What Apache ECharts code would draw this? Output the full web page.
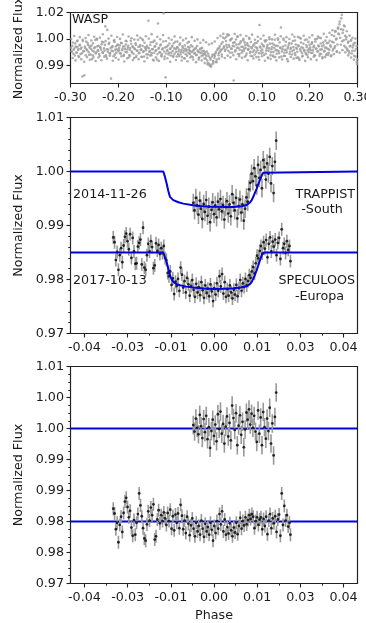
<!DOCTYPE html>
<html>
<head>
<meta charset="utf-8">
<script src="https://cdn.jsdelivr.net/npm/echarts/dist/echarts.min.js"></script>
<style>html,body{margin:0;padding:0;background:#fff;}#c{width:366px;height:623px;}</style>
</head>
<body>
<div id="c"></div>
<script>
// ---------------- DATA ----------------
const waspPhase = [
-0.2990,-0.2971,-0.2950,-0.2933,-0.2911,-0.2892,-0.2870,-0.2852,-0.2831,-0.2813,
-0.2790,-0.2772,-0.2751,-0.2733,-0.2710,-0.2692,-0.2671,-0.2650,-0.2632,-0.2611,
-0.2593,-0.2570,-0.2552,-0.2531,-0.2512,-0.2490,-0.2473,-0.2451,-0.2430,-0.2412,
-0.2391,-0.2372,-0.2350,-0.2331,-0.2313,-0.2290,-0.2271,-0.2252,-0.2230,-0.2211,
-0.2192,-0.2170,-0.2153,-0.2131,-0.2110,-0.2092,-0.2071,-0.2053,-0.2032,-0.2011,
-0.1990,-0.1972,-0.1951,-0.1930,-0.1912,-0.1891,-0.1873,-0.1852,-0.1830,-0.1811,
-0.1793,-0.1771,-0.1750,-0.1732,-0.1713,-0.1690,-0.1672,-0.1651,-0.1633,-0.1611,
-0.1590,-0.1572,-0.1553,-0.1531,-0.1510,-0.1492,-0.1471,-0.1452,-0.1430,-0.1413,
-0.1391,-0.1372,-0.1350,-0.1332,-0.1311,-0.1293,-0.1270,-0.1251,-0.1233,-0.1212,
-0.1190,-0.1171,-0.1153,-0.1130,-0.1112,-0.1091,-0.1070,-0.1052,-0.1031,-0.1010,
-0.0991,-0.0972,-0.0950,-0.0931,-0.0912,-0.0893,-0.0871,-0.0850,-0.0832,-0.0811,
-0.0790,-0.0773,-0.0751,-0.0732,-0.0711,-0.0690,-0.0672,-0.0651,-0.0630,-0.0612,
-0.0591,-0.0572,-0.0553,-0.0531,-0.0510,-0.0492,-0.0471,-0.0450,-0.0432,-0.0411,
-0.0390,-0.0371,-0.0352,-0.0330,-0.0311,-0.0292,-0.0270,-0.0251,-0.0232,-0.0211,
-0.0190,-0.0172,-0.0150,-0.0131,-0.0112,-0.0091,-0.0070,-0.0052,-0.0031,-0.0012,
0.0009,0.0030,0.0051,0.0070,0.0092,0.0111,0.0130,0.0152,0.0171,0.0190,
0.0212,0.0231,0.0250,0.0272,0.0291,0.0310,0.0332,0.0351,0.0370,0.0392,
0.0411,0.0430,0.0452,0.0471,0.0490,0.0512,0.0531,0.0550,0.0572,0.0591,
0.0610,0.0632,0.0651,0.0670,0.0692,0.0711,0.0730,0.0752,0.0771,0.0790,
0.0812,0.0831,0.0850,0.0872,0.0891,0.0910,0.0932,0.0951,0.0970,0.0992,
0.1010,0.1031,0.1050,0.1072,0.1091,0.1110,0.1132,0.1151,0.1170,0.1192,
0.1211,0.1230,0.1252,0.1271,0.1290,0.1312,0.1331,0.1350,0.1372,0.1391,
0.1410,0.1432,0.1451,0.1470,0.1492,0.1511,0.1530,0.1552,0.1571,0.1590,
0.1612,0.1631,0.1650,0.1672,0.1691,0.1710,0.1732,0.1751,0.1770,0.1792,
0.1811,0.1830,0.1852,0.1871,0.1890,0.1912,0.1931,0.1950,0.1972,0.1991,
0.2012,0.2030,0.2051,0.2072,0.2090,0.2111,0.2132,0.2150,0.2171,0.2192,
0.2210,0.2231,0.2252,0.2270,0.2291,0.2312,0.2330,0.2351,0.2372,0.2390,
0.2411,0.2432,0.2450,0.2471,0.2492,0.2510,0.2531,0.2552,0.2570,0.2591,
0.2612,0.2630,0.2651,0.2672,0.2690,0.2711,0.2732,0.2750,0.2771,0.2792,
0.2810,0.2831,0.2852,0.2870,0.2891,0.2912,0.2930,0.2951,0.2972,0.2990,
-0.2981,-0.2962,-0.2941,-0.2922,-0.2901,-0.2880,-0.2861,-0.2842,-0.2821,-0.2802,
-0.2781,-0.2760,-0.2742,-0.2721,-0.2700,-0.2681,-0.2662,-0.2641,-0.2620,-0.2602,
-0.2581,-0.2561,-0.2542,-0.2520,-0.2501,-0.2482,-0.2461,-0.2440,-0.2421,-0.2402,
-0.2381,-0.2360,-0.2342,-0.2321,-0.2300,-0.2281,-0.2262,-0.2241,-0.2220,-0.2201,
-0.2182,-0.2161,-0.2142,-0.2121,-0.2100,-0.2081,-0.2062,-0.2041,-0.2021,-0.2001,
-0.1981,-0.1962,-0.1941,-0.1921,-0.1901,-0.1882,-0.1861,-0.1842,-0.1821,-0.1801,
-0.1782,-0.1761,-0.1741,-0.1722,-0.1701,-0.1681,-0.1662,-0.1641,-0.1621,-0.1602,
-0.1581,-0.1561,-0.1542,-0.1521,-0.1501,-0.1482,-0.1461,-0.1441,-0.1422,-0.1401,
-0.1381,-0.1362,-0.1341,-0.1321,-0.1302,-0.1281,-0.1261,-0.1242,-0.1221,-0.1201,
-0.1182,-0.1161,-0.1141,-0.1122,-0.1101,-0.1081,-0.1062,-0.1041,-0.1021,-0.1001,
-0.0981,-0.0962,-0.0941,-0.0921,-0.0902,-0.0881,-0.0861,-0.0842,-0.0821,-0.0801,
-0.0781,-0.0762,-0.0741,-0.0721,-0.0702,-0.0681,-0.0661,-0.0642,-0.0621,-0.0601,
-0.0581,-0.0562,-0.0541,-0.0521,-0.0502,-0.0481,-0.0461,-0.0442,-0.0421,-0.0401,
-0.0381,-0.0362,-0.0341,-0.0321,-0.0302,-0.0281,-0.0261,-0.0242,-0.0221,-0.0201,
-0.0181,-0.0162,-0.0141,-0.0121,-0.0102,-0.0081,-0.0061,-0.0042,-0.0021,-0.0001,
0.0019,0.0040,0.0060,0.0081,0.0101,0.0120,0.0141,0.0161,0.0180,0.0201,
0.0221,0.0240,0.0261,0.0281,0.0300,0.0321,0.0341,0.0360,0.0381,0.0401,
0.0420,0.0441,0.0461,0.0480,0.0501,0.0521,0.0540,0.0561,0.0581,0.0600,
0.0621,0.0641,0.0660,0.0681,0.0701,0.0720,0.0741,0.0761,0.0780,0.0801,
0.0821,0.0840,0.0861,0.0881,0.0900,0.0921,0.0941,0.0960,0.0981,0.0999,
0.1019,0.1040,0.1060,0.1081,0.1101,0.1120,0.1141,0.1161,0.1180,0.1201,
0.1221,0.1240,0.1261,0.1281,0.1300,0.1321,0.1341,0.1360,0.1381,0.1401,
0.1420,0.1441,0.1461,0.1480,0.1501,0.1521,0.1540,0.1561,0.1581,0.1600,
0.1621,0.1641,0.1660,0.1681,0.1701,0.1720,0.1741,0.1761,0.1780,0.1801,
0.1821,0.1840,0.1861,0.1881,0.1900,0.1921,0.1941,0.1960,0.1981,0.1999,
0.2021,0.2041,0.2060,0.2081,0.2101,0.2120,0.2141,0.2161,0.2180,0.2201,
0.2221,0.2240,0.2261,0.2281,0.2300,0.2321,0.2341,0.2360,0.2381,0.2401,
0.2421,0.2440,0.2461,0.2481,0.2500,0.2521,0.2541,0.2560,0.2581,0.2601,
0.2621,0.2640,0.2661,0.2681,0.2700,0.2721,0.2741,0.2760,0.2781,0.2801,
0.2821,0.2840,0.2861,0.2881,0.2900,0.2921,0.2941,0.2960,0.2981,0.2996,
-0.2985,-0.2955,-0.2925,-0.2895,-0.2865,-0.2835,-0.2805,-0.2775,-0.2745,-0.2715,
-0.2685,-0.2655,-0.2625,-0.2595,-0.2565,-0.2535,-0.2505,-0.2475,-0.2445,-0.2415,
-0.2385,-0.2355,-0.2325,-0.2295,-0.2265,-0.2235,-0.2205,-0.2175,-0.2145,-0.2115,
-0.2085,-0.2055,-0.2025,-0.1995,-0.1965,-0.1935,-0.1905,-0.1875,-0.1845,-0.1815,
-0.1785,-0.1755,-0.1725,-0.1695,-0.1665,-0.1635,-0.1605,-0.1575,-0.1545,-0.1515,
-0.1485,-0.1455,-0.1425,-0.1395,-0.1365,-0.1335,-0.1305,-0.1275,-0.1245,-0.1215,
-0.1185,-0.1155,-0.1125,-0.1095,-0.1065,-0.1035,-0.1005,-0.0975,-0.0945,-0.0915,
-0.0885,-0.0855,-0.0825,-0.0795,-0.0765,-0.0735,-0.0705,-0.0675,-0.0645,-0.0615,
-0.0585,-0.0555,-0.0525,-0.0495,-0.0465,-0.0435,-0.0405,-0.0375,-0.0345,-0.0315,
-0.0285,-0.0255,-0.0225,-0.0195,-0.0165,-0.0135,-0.0105,-0.0075,-0.0045,-0.0015,
0.0015,0.0045,0.0075,0.0105,0.0135,0.0165,0.0195,0.0225,0.0255,0.0285,
0.0315,0.0345,0.0375,0.0405,0.0435,0.0465,0.0495,0.0525,0.0555,0.0585,
0.0615,0.0645,0.0675,0.0705,0.0735,0.0765,0.0795,0.0825,0.0855,0.0885,
0.0915,0.0945,0.0975,0.1005,0.1035,0.1065,0.1095,0.1125,0.1155,0.1185,
0.1215,0.1245,0.1275,0.1305,0.1335,0.1365,0.1395,0.1425,0.1455,0.1485,
0.1515,0.1545,0.1575,0.1605,0.1635,0.1665,0.1695,0.1725,0.1755,0.1785,
0.1815,0.1845,0.1875,0.1905,0.1935,0.1965,0.1995,0.2025,0.2055,0.2085,
0.2115,0.2145,0.2175,0.2205,0.2235,0.2265,0.2295,0.2325,0.2355,0.2385,
0.2415,0.2445,0.2475,0.2505,0.2535,0.2565,0.2595,0.2625,0.2655,0.2685,
0.2715,0.2745,0.2775,0.2805,0.2835,0.2865,0.2895,0.2925,0.2955,0.2985
];
const waspFlux = [
0.9977,0.9951,1.0010,0.9964,0.9928,0.9984,0.9945,1.0023,0.9969,0.9991,
0.9937,0.9979,0.9795,0.9956,0.9803,0.9974,1.0016,0.9961,0.9995,0.9933,
0.9987,0.9970,0.9905,1.0005,0.9953,0.9980,0.9941,1.0033,0.9963,0.9990,
0.9926,0.9976,0.9999,0.9949,1.0012,0.9958,1.0112,0.9920,1.0090,0.9966,
1.0008,0.9944,0.9782,0.9981,0.9955,1.0020,0.9935,0.9985,0.9968,0.9997,
0.9962,0.9993,0.9940,1.0006,0.9971,0.9925,0.9985,0.9952,1.0018,0.9966,
0.9989,0.9931,0.9975,1.0002,0.9947,0.9980,0.9912,0.9968,0.9996,0.9958,
1.0027,0.9942,0.9983,0.9963,0.9919,0.9988,0.9954,1.0009,0.9972,0.9936,
0.9979,1.0148,0.9950,0.9994,0.9929,0.9967,1.0014,0.9945,0.9986,0.9961,
0.9903,1.0130,0.9977,0.9949,0.9998,0.9938,0.9973,1.0195,0.9921,0.9790,
0.9983,0.9957,0.9935,1.0004,0.9969,0.9946,0.9990,0.9927,0.9973,1.0015,
0.9952,0.9981,0.9938,0.9966,1.0003,0.9949,0.9918,0.9975,0.9959,0.9992,
0.9936,0.9964,1.0008,0.9943,0.9978,0.9955,0.9923,0.9985,0.9960,0.9940,
0.9971,0.9932,0.9988,0.9951,0.9915,0.9967,0.9944,0.9976,0.9929,0.9958,
0.9937,0.9908,0.9953,0.9882,0.9924,0.9865,0.9902,0.9871,0.9933,0.9890,
0.9912,0.9941,0.9886,0.9963,0.9930,0.9975,0.9952,1.0001,0.9968,1.0042,
0.9986,0.9957,1.0019,0.9979,1.0055,0.9994,0.9947,1.0031,0.9972,0.9990,
0.9770,1.0011,0.9961,0.9997,1.0047,0.9976,0.9938,1.0008,0.9983,0.9959,
1.0024,0.9970,0.9993,0.9928,1.0005,0.9965,0.9987,0.9945,1.0013,0.9974,
0.9951,0.9996,0.9934,0.9981,1.0009,0.9962,0.9919,1.0121,0.9978,0.9940,
0.9966,0.9992,0.9931,1.0016,0.9958,0.9984,0.9913,0.9973,1.0003,0.9948,
0.9980,0.9927,0.9995,1.0028,0.9962,0.9939,0.9989,0.9956,1.0010,0.9975,
0.9921,0.9968,1.0036,0.9945,0.9991,0.9960,0.9905,0.9982,1.0007,0.9952,
0.9977,0.9934,1.0020,0.9964,0.9943,0.9998,0.9971,0.9916,0.9987,1.0040,
0.9957,0.9980,0.9926,1.0002,0.9963,0.9947,0.9993,0.9932,1.0014,0.9969,
0.9979,0.9944,1.0011,0.9963,0.9990,0.9928,0.9972,1.0034,0.9955,0.9986,
0.9939,1.0004,0.9967,0.9918,0.9995,0.9958,1.0022,0.9976,0.9941,1.0009,
0.9965,0.9992,0.9930,1.0015,0.9970,1.0051,0.9987,1.0030,0.9954,1.0098,
1.0062,1.0142,0.9996,1.0185,1.0071,1.0024,1.0113,0.9981,1.0045,0.9962,
1.0016,0.9943,0.9989,1.0027,0.9958,0.9993,0.9926,1.0008,0.9971,0.9875,
0.9958,0.9989,0.9939,0.9972,1.0004,0.9947,0.9981,0.9963,0.9919,0.9996,
0.9970,0.9942,1.0019,0.9955,0.9984,0.9929,0.9966,1.0007,0.9950,0.9978,
0.9934,0.9991,0.9960,0.9916,0.9975,1.0026,0.9948,0.9986,0.9957,0.9937,
0.9982,0.9964,1.0015,0.9944,0.9973,0.9995,0.9930,0.9968,0.9952,1.0001,
0.9940,0.9977,0.9959,0.9988,0.9924,1.0013,0.9965,0.9946,0.9993,0.9956,
0.9976,0.9943,1.0009,0.9961,0.9985,0.9932,0.9969,0.9998,0.9948,0.9979,
0.9915,0.9964,1.0021,0.9953,0.9987,0.9939,0.9972,1.0005,0.9926,0.9960,
0.9983,0.9945,0.9994,0.9967,1.0032,0.9951,0.9921,0.9980,0.9962,0.9990,
0.9934,0.9974,0.9956,1.0012,0.9943,0.9969,0.9896,0.9984,0.9958,1.0003,
0.9937,0.9971,0.9949,0.9992,0.9928,0.9966,1.0017,0.9953,0.9979,0.9941,
0.9963,0.9991,0.9945,0.9972,0.9928,0.9984,0.9957,1.0006,0.9940,0.9969,
0.9921,0.9978,0.9953,0.9996,0.9934,0.9962,0.9986,0.9947,0.9911,0.9970,
0.9955,0.9926,0.9981,0.9962,0.9938,0.9993,0.9950,0.9919,0.9966,0.9944,
0.9977,0.9931,0.9959,0.9902,0.9948,0.9972,0.9925,0.9956,0.9940,0.9910,
0.9948,0.9927,0.9896,0.9939,0.9875,0.9912,0.9858,0.9921,0.9893,0.9934,
0.9925,0.9951,0.9903,0.9972,0.9944,0.9988,0.9961,0.9934,1.0012,0.9977,
1.0036,0.9966,0.9995,1.0062,0.9958,0.9983,1.0024,0.9971,0.9945,1.0008,
0.9987,0.9953,1.0029,0.9976,0.9938,0.9999,0.9964,1.0018,0.9945,0.9982,
0.9956,1.0011,0.9975,0.9940,0.9994,0.9967,1.0033,0.9951,0.9980,0.9923,
0.9990,0.9961,1.0006,0.9949,0.9975,1.0019,0.9943,0.9985,0.9958,1.0002,
0.9947,0.9985,1.0023,0.9939,0.9972,0.9996,0.9958,1.0031,0.9929,0.9967,
1.0004,0.9950,0.9976,0.9918,0.9990,0.9961,1.0027,0.9942,0.9979,1.0105,
0.9953,0.9985,0.9926,0.9964,1.0015,0.9947,0.9973,0.9996,0.9938,0.9969,
1.0003,0.9956,0.9982,1.0047,0.9931,0.9977,0.9952,0.9992,0.9909,0.9968,
1.0010,0.9944,0.9975,0.9958,1.0026,0.9937,0.9980,0.9961,0.9949,0.9995,
0.9962,1.0003,0.9946,0.9981,0.9929,1.0017,0.9970,0.9953,0.9991,1.0040,
0.9965,0.9938,0.9987,1.0012,0.9954,0.9978,0.9932,1.0006,0.9969,0.9945,
1.0021,0.9983,1.0058,0.9960,1.0010,0.9976,1.0082,1.0035,0.9998,1.0067,
1.0125,1.0040,1.0163,1.0018,1.0090,0.9990,1.0052,1.0031,0.9970,1.0009,
0.9955,0.9986,1.0022,0.9941,0.9979,1.0004,0.9958,0.9921,0.9988,0.9903,
1.0032,0.9912,1.0051,0.9897,1.0018,0.9925,1.0044,0.9904,1.0027,0.9889,
1.0039,0.9918,1.0058,0.9901,1.0023,0.9929,1.0047,0.9893,1.0030,0.9915,
1.0041,0.9898,1.0062,0.9921,1.0019,0.9907,1.0035,0.9927,1.0053,0.9895,
1.0026,0.9914,1.0045,0.9902,1.0033,0.9923,1.0061,0.9890,1.0021,0.9910,
1.0048,0.9926,1.0037,0.9899,1.0029,0.9917,1.0055,0.9905,1.0040,0.9920,
1.0024,0.9892,1.0050,0.9913,1.0034,0.9928,1.0063,0.9901,1.0022,0.9916,
1.0046,0.9894,1.0031,0.9922,1.0057,0.9906,1.0020,0.9911,1.0038,0.9888,
1.0027,0.9919,1.0049,0.9900,1.0016,0.9924,1.0042,0.9896,1.0025,0.9909,
1.0036,0.9891,1.0014,0.9915,1.0044,0.9903,1.0021,0.9886,1.0030,0.9912,
1.0009,0.9897,1.0025,0.9880,1.0012,0.9872,0.9998,0.9861,1.0005,0.9878,
1.0017,0.9889,1.0039,0.9908,1.0052,0.9921,1.0066,0.9912,1.0045,0.9927,
1.0058,0.9917,1.0036,0.9930,1.0064,0.9904,1.0049,0.9924,1.0057,0.9913,
1.0033,0.9920,1.0051,0.9898,1.0040,0.9926,1.0060,0.9909,1.0028,0.9918,
1.0047,0.9901,1.0034,0.9923,1.0055,0.9895,1.0024,0.9914,1.0043,0.9906,
1.0030,0.9921,1.0059,0.9897,1.0037,0.9916,1.0050,0.9903,1.0026,0.9925,
1.0044,0.9891,1.0032,0.9919,1.0061,0.9908,1.0023,0.9912,1.0046,0.9900,
1.0035,0.9922,1.0053,0.9894,1.0029,0.9917,1.0042,0.9905,1.0056,0.9920,
1.0031,0.9899,1.0048,0.9926,1.0038,0.9910,1.0065,0.9918,1.0045,0.9932,
1.0072,0.9924,1.0088,0.9937,1.0079,0.9951,1.0105,0.9945,1.0094,0.9962,
1.0118,0.9948,1.0081,0.9929,1.0054,0.9915,1.0040,0.9902,1.0035,0.9887
];

const trappistPhase = [
-0.0064,-0.0060,-0.0056,-0.0052,-0.0048,-0.0044,-0.0040,-0.0036,-0.0032,-0.0028,
-0.0024,-0.0020,-0.0016,-0.0012,-0.0008,-0.0004,0.0000,0.0004,0.0008,0.0012,
0.0016,0.0020,0.0024,0.0028,0.0032,0.0036,0.0040,0.0044,0.0048,0.0052,
0.0056,0.0060,0.0064,0.0068,0.0072,0.0076,0.0080,0.0084,0.0088,0.0092,
0.0096,0.0100,0.0104,0.0108,0.0112,0.0116,0.0120,0.0124,0.0128,0.0132,
0.0136,0.0140,0.0144,0.0148,0.0152,0.0156,0.0160,0.0164,0.0168,0.0172,
0.0176,0.0180,0.0184,0.0188,0.0192
];
const trappistFlux = [
0.9942,0.9928,0.9951,0.9937,0.9920,0.9946,0.9931,0.9912,0.9940,0.9925,
0.9947,0.9918,0.9935,0.9906,0.9929,0.9943,0.9921,0.9937,0.9915,0.9944,
0.9930,0.9949,0.9926,0.9938,0.9911,0.9934,0.9945,0.9922,0.9939,0.9917,
0.9958,0.9942,0.9928,0.9951,0.9913,0.9936,0.9948,0.9924,0.9939,0.9909,
0.9931,0.9952,0.9944,0.9967,0.9979,0.9996,0.9982,1.0006,0.9991,0.9974,
1.0012,0.9988,1.0003,0.9969,1.0021,1.0008,0.9985,1.0015,0.9996,1.0027,
0.9978,1.0010,0.9960,1.0018,1.0057
];
const trappistResid = [
0.9992,0.9980,1.0004,0.9987,0.9975,1.0011,0.9990,0.9968,1.0003,0.9979,
1.0009,0.9966,0.9988,0.9950,0.9981,1.0002,0.9972,0.9993,0.9962,1.0012,
0.9985,1.0017,0.9976,0.9994,0.9958,0.9989,1.0008,0.9971,0.9996,0.9964,
1.0028,1.0005,0.9983,1.0014,0.9955,0.9991,1.0010,0.9974,0.9998,0.9951,
0.9984,1.0015,1.0002,1.0021,0.9993,1.0013,0.9987,1.0009,0.9980,0.9961,
1.0019,0.9976,1.0006,0.9955,1.0016,0.9988,0.9967,1.0004,0.9981,1.0024,
0.9958,0.9995,0.9936,1.0007,1.0052
];
const trappistErr = 0.0017;

const speculoosPhase = [
-0.0311,-0.0307,-0.0303,-0.0299,-0.0295,-0.0291,-0.0287,-0.0283,-0.0279,-0.0275,
-0.0271,-0.0267,-0.0263,-0.0259,-0.0255,-0.0251,-0.0247,-0.0243,-0.0239,-0.0235,
-0.0231,-0.0227,-0.0223,-0.0219,-0.0215,-0.0211,-0.0207,-0.0203,-0.0199,-0.0195,
-0.0191,-0.0187,-0.0183,-0.0179,-0.0175,-0.0171,-0.0167,-0.0163,-0.0159,-0.0155,
-0.0151,-0.0147,-0.0143,-0.0139,-0.0135,-0.0131,-0.0127,
-0.0123,-0.0119,-0.0115,-0.0111,-0.0107,-0.0103,-0.0099,-0.0095,-0.0091,-0.0087,
-0.0083,-0.0079,-0.0075,-0.0071,-0.0067,-0.0063,-0.0059,-0.0055,-0.0051,-0.0047,
-0.0043,-0.0039,-0.0035,-0.0031,-0.0027,-0.0023,-0.0019,-0.0015,-0.0011,-0.0007,
-0.0003,0.0001,0.0005,0.0009,0.0013,0.0017,0.0021,0.0025,0.0029,0.0033,
0.0037,0.0041,0.0045,0.0049,0.0053,0.0057,0.0061,0.0065,0.0069,0.0073,
0.0077,0.0081,0.0085,0.0089,0.0093,0.0097,0.0101,0.0105,0.0109,0.0113,
0.0117,0.0121,0.0125,0.0129,0.0133,0.0137,0.0141,0.0145,0.0149,0.0153,
0.0157,0.0161,0.0165,0.0169,0.0173,0.0177,0.0181,0.0185,0.0189,0.0193,
0.0197,0.0201,0.0205,0.0209,0.0213,0.0217,0.0221,0.0225,0.0229,0.0233,0.0236
];
const speculoosFlux = [
0.9878,0.9869,0.9836,0.9851,0.9818,0.9845,0.9858,0.9832,0.9863,0.9879,
0.9885,0.9871,0.9856,0.9884,0.9840,0.9877,0.9852,0.9829,0.9830,0.9861,
0.9868,0.9874,0.9828,0.9896,0.9822,0.9818,0.9845,0.9866,0.9852,0.9871,
0.9860,0.9821,0.9826,0.9867,0.9853,0.9864,0.9847,0.9858,0.9849,0.9862,
0.9840,0.9836,0.9812,0.9806,0.9815,0.9790,0.9802,
0.9773,0.9796,0.9788,0.9801,0.9779,0.9822,0.9809,0.9785,0.9797,0.9776,
0.9803,0.9791,0.9770,0.9788,0.9799,0.9781,0.9768,0.9792,0.9776,0.9786,
0.9771,0.9795,0.9780,0.9766,0.9789,0.9775,0.9783,0.9769,0.9791,0.9778,
0.9760,0.9784,0.9772,0.9793,0.9779,0.9806,0.9787,0.9810,0.9774,0.9795,
0.9768,0.9782,0.9770,0.9789,0.9776,0.9765,0.9781,0.9772,0.9790,0.9769,
0.9784,0.9799,0.9779,0.9793,0.9786,0.9801,0.9789,0.9797,0.9808,0.9803,
0.9815,0.9823,0.9811,0.9830,0.9844,0.9839,0.9853,0.9862,0.9848,0.9869,
0.9857,0.9873,0.9841,0.9866,0.9878,0.9852,0.9870,0.9861,0.9874,0.9845,
0.9868,0.9877,0.9838,0.9893,0.9858,0.9866,0.9849,0.9871,0.9855,0.9862,0.9834
];
const speculoosResid = [
0.9838,0.9829,0.9800,0.9812,0.9776,0.9808,0.9823,0.9795,0.9830,0.9851,
0.9858,0.9841,0.9822,0.9834,0.9803,0.9788,0.9817,0.9790,0.9812,0.9828,
0.9866,0.9844,0.9824,0.9802,0.9783,0.9779,0.9809,0.9833,0.9816,0.9840,
0.9826,0.9846,0.9781,0.9787,0.9818,0.9835,0.9811,0.9826,0.9815,0.9831,
0.9820,0.9808,0.9830,0.9815,0.9836,0.9801,0.9824,
0.9798,0.9827,0.9812,0.9829,0.9802,0.9845,0.9825,0.9800,0.9816,0.9793,
0.9823,0.9810,0.9789,0.9807,0.9820,0.9801,0.9787,0.9812,0.9796,0.9806,
0.9790,0.9816,0.9801,0.9786,0.9810,0.9796,0.9804,0.9790,0.9812,0.9799,
0.9779,0.9806,0.9793,0.9815,0.9801,0.9828,0.9809,0.9833,0.9796,0.9818,
0.9790,0.9804,0.9792,0.9811,0.9798,0.9787,0.9803,0.9794,0.9812,0.9791,
0.9806,0.9821,0.9801,0.9815,0.9807,0.9822,0.9809,0.9817,0.9826,0.9819,
0.9828,0.9823,0.9802,0.9815,0.9822,0.9808,0.9818,0.9822,0.9800,0.9819,
0.9806,0.9823,0.9791,0.9816,0.9828,0.9802,0.9820,0.9811,0.9824,0.9795,
0.9818,0.9827,0.9788,0.9866,0.9808,0.9843,0.9816,0.9826,0.9805,0.9812,0.9790
];
const speculoosErr = 0.0012;

const trappistModelPhase = [-0.0443,-0.01565,-0.0152,-0.01462,-0.0141,-0.01359,-0.0131,-0.01256,-0.0110,-0.00947,-0.0065,-0.00432,-0.0010,0.00597,0.0085,0.0101,0.0110,0.01164,0.0124,0.01318,0.0140,0.01473,0.0152,0.01575,0.0443];
const trappistModelFlux  = [1.0,1.0,0.99915,0.99778,0.99640,0.99530,0.99495,0.99470,0.99430,0.99405,0.99375,0.99360,0.99345,0.99343,0.99355,0.99380,0.99420,0.99470,0.99570,0.99685,0.99815,0.99925,0.99975,1.0,1.0];
const speculoosModelPhase = [-0.0443,-0.01565,-0.0152,-0.01462,-0.0141,-0.01359,-0.0131,-0.01256,-0.0115,-0.0105,-0.0085,-0.00638,-0.0030,-0.0002,0.0030,0.00597,0.0085,0.0101,0.0110,0.01164,0.0124,0.01318,0.0140,0.01473,0.01545,0.0443];
const speculoosModelFlux  = [0.985,0.985,0.9842,0.98326,0.98200,0.98080,0.98005,0.97956,0.97915,0.97894,0.97868,0.97852,0.97835,0.97826,0.97828,0.97838,0.97855,0.97876,0.97910,0.97956,0.98050,0.98172,0.98320,0.98450,0.985,0.985];
const residLevels = [0.99857, 0.98143];

// tick values (labels printed with two decimals)
const waspXTicks = [-0.3,-0.2,-0.1,0.0,0.1,0.2,0.3];
const waspYTicks = [0.986667,1.003333,1.02];
const phaseTicks = [-0.04,-0.026667,-0.013333,0,0.013333,0.026667,0.04];
const phaseMinor = [-0.033333,-0.02,-0.006667,0.006667,0.02,0.033333];
const transitYTicks = [0.97,0.98,0.99,1.00,1.01];
const transitYMinor = [0.972,0.974,0.976,0.978,0.982,0.984,0.986,0.988,0.992,0.994,0.996,0.998,1.002,1.004,1.006,1.008];
const residYTicks = [0.97,0.975714,0.981429,0.987143,0.992857,0.998571,1.004286,1.01];
const residYMinor = [0.971429,0.972857,0.974286,0.977143,0.978571,0.98,0.982857,0.984286,0.985714,0.988571,0.99,0.991429,0.994286,0.995714,0.997143,1.0,1.001429,1.002857,1.005714,1.007143,1.008571];

// ---------------- CHART ----------------
const FONT = 'DejaVu Sans';
const TXT = '#1a1a1a';
const FS = 12.7;
const fmt = v => (Math.abs(v) < 1e-9 ? 0 : v).toFixed(2);
const zip = (a, b, e) => a.map((x, i) => e === undefined ? [x, b[i]] : [x, b[i], e]);

const grids = [
  {left: 70.5, top: 12.5, width: 287, height: 71},
  {left: 70.5, top: 117.5, width: 287, height: 216},
  {left: 70.5, top: 366.5, width: 287, height: 217}
].map(g => Object.assign(g, {show: true, borderColor: '#222', borderWidth: 1.2, backgroundColor: 'transparent', containLabel: false, outerBoundsMode: 'none'}));

function mainAxis(kind, gi, min, max, ticks, name, nameGap) {
  const a = {
    type: 'value', gridIndex: gi, min, max,
    position: kind === 'x' ? 'bottom' : 'left',
    axisLine: {show: false, onZero: false},
    splitLine: {show: false},
    axisTick: {show: true, inside: false, length: 4, customValues: ticks, lineStyle: {color: '#222', width: 1.1}},
    axisLabel: {show: true, customValues: ticks, formatter: fmt, margin: kind === 'x' ? 7.5 : 6.5, color: TXT, fontSize: FS, fontFamily: FONT, hideOverlap: false},
  };
  if (name) {
    a.name = name; a.nameLocation = 'middle'; a.nameGap = nameGap;
    a.nameTextStyle = {color: TXT, fontSize: FS, fontFamily: FONT};
  }
  return a;
}
function minorAxis(kind, gi, min, max, ticks) {
  return {
    type: 'value', gridIndex: gi, min, max,
    position: kind === 'x' ? 'bottom' : 'left',
    axisLine: {show: false, onZero: false},
    splitLine: {show: false},
    axisTick: {show: true, inside: false, length: 2.2, customValues: ticks, lineStyle: {color: '#222', width: 1}},
    axisLabel: {show: false}
  };
}

const PX = 0.0443;
const xAxes = [
  mainAxis('x', 0, -0.3, 0.3, waspXTicks),
  mainAxis('x', 1, -PX, PX, phaseTicks),
  minorAxis('x', 1, -PX, PX, phaseMinor),
  mainAxis('x', 2, -PX, PX, phaseTicks, 'Phase', 26),
  minorAxis('x', 2, -PX, PX, phaseMinor)
];
const yAxes = [
  mainAxis('y', 0, 0.9751, 1.02, waspYTicks, 'Normalized Flux', 43),
  mainAxis('y', 1, 0.97, 1.01, transitYTicks, 'Normalized Flux', 43),
  minorAxis('y', 1, 0.97, 1.01, transitYMinor),
  mainAxis('y', 2, 0.97, 1.01, residYTicks, 'Normalized Flux', 43),
  minorAxis('y', 2, 0.97, 1.01, residYMinor)
];

function errBars(xi, yi, data) {
  return {
    type: 'custom', xAxisIndex: xi, yAxisIndex: yi, data, clip: true, silent: true,
    renderItem: (params, api) => {
      const x = api.value(0), y = api.value(1), e = api.value(2);
      const p1 = api.coord([x, y - e]), p2 = api.coord([x, y + e]);
      return {type: 'line', shape: {x1: p1[0], y1: p1[1], x2: p2[0], y2: p2[1]},
              style: {stroke: '#999999', lineWidth: 1.6}};
    }
  };
}
function dots(xi, yi, data) {
  return {type: 'scatter', xAxisIndex: xi, yAxisIndex: yi, data, symbol: 'circle', symbolSize: 2.8,
          itemStyle: {color: '#000'}, silent: true, clip: true};
}
function modelLine(xi, yi, data, z) {
  return {type: 'line', xAxisIndex: xi, yAxisIndex: yi, data, showSymbol: false, symbol: 'none',
          lineStyle: {color: '#0000e0', width: 2}, silent: true, z: z || 3, clip: true};
}

const series = [
  {type: 'scatter', xAxisIndex: 0, yAxisIndex: 0, data: zip(waspPhase, waspFlux), symbolSize: 2.6,
   itemStyle: {color: '#9b9b9b'}, silent: true, clip: true, large: false},
  errBars(1, 1, zip(trappistPhase, trappistFlux, trappistErr)),
  errBars(1, 1, zip(speculoosPhase, speculoosFlux, speculoosErr)),
  dots(1, 1, zip(trappistPhase, trappistFlux)),
  dots(1, 1, zip(speculoosPhase, speculoosFlux)),
  modelLine(1, 1, zip(trappistModelPhase, trappistModelFlux), 5),
  modelLine(1, 1, zip(speculoosModelPhase, speculoosModelFlux), 5),
  modelLine(3, 3, [[-PX, residLevels[0]], [PX, residLevels[0]]], 1),
  modelLine(3, 3, [[-PX, residLevels[1]], [PX, residLevels[1]]], 1),
  errBars(3, 3, zip(trappistPhase, trappistResid, trappistErr)),
  errBars(3, 3, zip(speculoosPhase, speculoosResid, speculoosErr)),
  dots(3, 3, zip(trappistPhase, trappistResid)),
  dots(3, 3, zip(speculoosPhase, speculoosResid))
];

const T = (text, x, y, align) => ({type: 'text', x, y, silent: true, z: 100,
  style: {text, fill: TXT, fontSize: FS, fontFamily: FONT, align: align || 'left', verticalAlign: 'middle'}});

const chart = echarts.init(document.getElementById('c'), null, {renderer: 'canvas'});
chart.setOption({
  animation: false,
  backgroundColor: '#fff',
  grid: grids,
  xAxis: xAxes,
  yAxis: yAxes,
  series,
  graphic: [
    T('WASP', 72, 19.5),
    T('2014-11-26', 73, 194.5),
    T('TRAPPIST', 355, 194.5, 'right'),
    T('-South', 322, 209.5, 'center'),
    T('2017-10-13', 73, 280.5),
    T('SPECULOOS', 355, 280.5, 'right'),
    T('-Europa', 319.5, 297, 'center')
  ]
});
</script>
</body>
</html>
